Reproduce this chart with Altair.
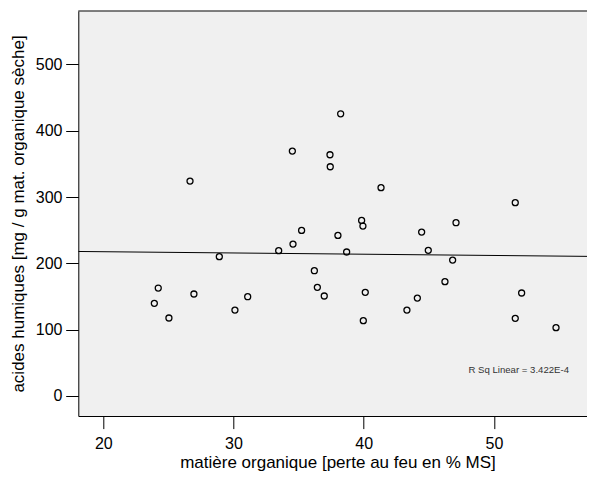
import altair as alt
import pandas as pd

# Data
organic_matter = [23.92, 24.22, 25.04, 26.66, 26.96, 28.91, 30.11, 31.09, 33.47, 34.52,
                  34.57, 35.23, 36.21, 36.44, 36.97, 37.41, 37.43, 38.02, 38.23, 38.69,
                  39.84, 39.94, 39.97, 40.12, 41.33, 43.32, 44.12, 44.45, 44.96, 46.24,
                  46.83, 47.09, 51.64, 51.64, 52.13, 54.77]
humic_acids = [139.7, 162.8, 117.6, 324.1, 153.8, 210.1, 129.6, 149.7, 219.1, 369.3,
               229.1, 249.7, 188.9, 163.8, 150.8, 363.8, 345.7, 242.2, 425.6, 217.1,
               264.8, 256.3, 113.6, 156.3, 314.1, 129.6, 147.7, 247.2, 219.6, 172.4,
               205.0, 261.3, 291.5, 117.1, 155.3, 103.0]
x_ticks = [20, 30, 40, 50]
y_ticks = [0, 100, 200, 300, 400, 500]
x_domain = [18.08, 57.15]
y_domain = [-30.2, 580.6]
x_title = "matière organique [perte au feu en % MS]"
y_title = "acides humiques [mg / g mat. organique sèche]"
r2_label = ["R Sq Linear = 3.422E-4"]

df = pd.DataFrame({"om": organic_matter, "ha": humic_acids})

W = 508.7
H = 405
FONT = "Liberation Sans, Arial, Helvetica, sans-serif"

x_scale = alt.Scale(domain=x_domain, nice=False, zero=False)
y_scale = alt.Scale(domain=y_domain, nice=False, zero=False)

x_axis = alt.Axis(values=x_ticks, title=x_title, grid=False, tickSize=12.6,
                  labelBaseline="alphabetic", labelPadding=19.7, labelFontSize=16,
                  titleFontSize=17, titleFontWeight="normal", titleX=259.2, titleY=51,
                  titleBaseline="alphabetic", titleAlign="center")
y_axis = alt.Axis(values=y_ticks, title=y_title, grid=False, tickSize=12.6,
                  labelPadding=3.7, labelFontSize=16,
                  titleFontSize=17, titleFontWeight="normal", titleAngle=270,
                  titleX=-55.2, titleY=202.5, titleBaseline="alphabetic",
                  titleAlign="center")

base = alt.Chart(df)

points = base.mark_point(shape="circle", filled=False, color="black",
                         size=36, strokeWidth=1.3, opacity=1).encode(
    x=alt.X("om:Q", scale=x_scale, axis=x_axis),
    y=alt.Y("ha:Q", scale=y_scale, axis=y_axis),
)

fit = base.transform_regression("om", "ha", extent=x_domain).mark_line(
    color="black", strokeWidth=1, clip=True).encode(
    x=alt.X("om:Q", scale=x_scale),
    y=alt.Y("ha:Q", scale=y_scale),
)

top_border = alt.Chart(pd.DataFrame({"k": [0]})).mark_rule(
    color="black", strokeWidth=1).encode(
    x=alt.value(0), x2=alt.value(W), y=alt.value(0))

r2 = alt.Chart(pd.DataFrame({"t": r2_label})).mark_text(
    align="right", baseline="alphabetic", fontSize=9.6, color="#333333", font=FONT).encode(
    x=alt.value(490.7), y=alt.value(361.5), text="t:N")

chart = alt.layer(fit, points, top_border, r2).properties(
    width=W, height=H,
    padding={"left": 70.3, "top": 3, "right": 0, "bottom": 55},
    autosize=alt.AutoSizeParams(type="none"),
    background="white",
).configure_view(
    fill="#F0F0F0", stroke="transparent"
).configure_axis(
    labelFont=FONT, titleFont=FONT, labelColor="black", titleColor="black",
    domainColor="black", tickColor="black", domainWidth=1, tickWidth=1,
)

chart.save("out.html", embed_options={"renderer": "svg", "actions": False})
